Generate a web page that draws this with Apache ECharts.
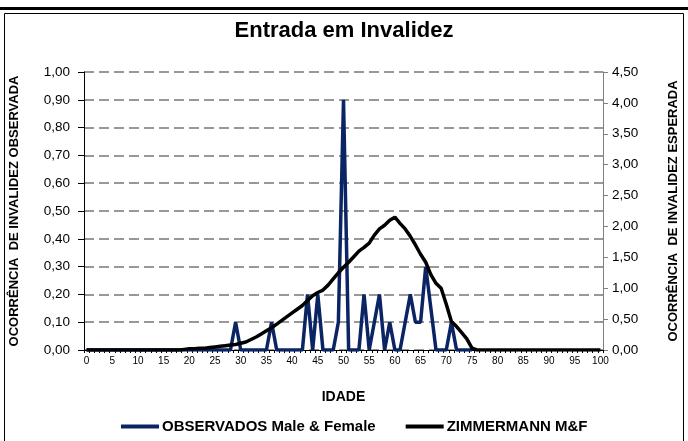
<!DOCTYPE html>
<html>
<head>
<meta charset="utf-8">
<script src="https://cdn.jsdelivr.net/npm/echarts@6/dist/echarts.min.js"></script>
<style>
  html, body { margin: 0; padding: 0; background: #fff; }
  #chart { width: 688px; height: 441px; }
</style>
</head>
<body>
<div id="chart"></div>
<script>
// idade 0..100
const ages = []
for (let a = 0; a <= 100; a++) ages.push(String(a))

// observado (eixo esquerdo), idades 0..75
const observados = [
  0, 0, 0, 0, 0, 0, 0, 0, 0, 0,
  0, 0, 0, 0, 0, 0, 0, 0, 0, 0,
  0, 0, 0, 0, 0, 0, 0, 0, 0, 0.1,
  0, 0, 0, 0, 0, 0, 0.1, 0, 0, 0,
  0, 0, 0, 0.2, 0, 0.2, 0, 0, 0, 0.1,
  0.9, 0, 0, 0, 0.2, 0, 0.1, 0.2, 0, 0.1,
  0, 0, 0.1, 0.2, 0.1, 0.1, 0.3, 0.15, 0, 0,
  0, 0.1, 0, 0, 0, 0
]

// esperado Zimmermann (eixo direito), idades 0..100
const zimmermann = [
  0, 0, 0, 0, 0, 0, 0, 0, 0, 0,
  0, 0, 0, 0, 0, 0, 0, 0, 0, 0.01,
  0.02, 0.02, 0.03, 0.03, 0.04, 0.05, 0.06, 0.07, 0.08, 0.09,
  0.11, 0.13, 0.17, 0.21, 0.26, 0.31, 0.36, 0.42, 0.48, 0.54,
  0.60, 0.66, 0.72, 0.80, 0.88, 0.93, 0.97, 1.05, 1.15, 1.25,
  1.34, 1.42, 1.51, 1.60, 1.66, 1.73, 1.86, 1.96, 2.02, 2.10,
  2.15, 2.05, 1.96, 1.84, 1.70, 1.55, 1.42, 1.22, 1.08, 1.00,
  0.74, 0.46, 0.38, 0.28, 0.18, 0.03, 0, 0, 0, 0,
  0, 0, 0, 0, 0, 0, 0, 0, 0, 0,
  0, 0, 0, 0, 0, 0, 0, 0, 0, 0,
  0
]

const fmt = v => v.toFixed(2).replace('.', ',')
const font = 'Liberation Sans, Arial, sans-serif'

const chart = echarts.init(document.getElementById('chart'))

chart.setOption({
  animation: false,
  textStyle: { fontFamily: font, color: '#000' },
  title: {
    text: 'Entrada em Invalidez',
    left: 'center',
    top: 15,
    textStyle: { fontFamily: font, fontSize: 22, fontWeight: 'bold', color: '#000' }
  },
  graphic: [
    { type: 'rect', shape: { x: 0, y: 7, width: 688, height: 3 }, style: { fill: '#000' } },
    { type: 'rect', shape: { x: 4.5, y: 13.5, width: 679, height: 440 }, style: { fill: 'none', stroke: '#000', lineWidth: 1 } }
  ],
  legend: {
    left: 116,
    top: 414,
    itemGap: 30,
    itemWidth: 38,
    itemHeight: 4,
    icon: 'rect',
    textStyle: { fontFamily: font, fontSize: 15, fontWeight: 'bold', color: '#000', padding: [0, 0, 0, -2] },
    data: ['OBSERVADOS Male & Female', 'ZIMMERMANN M&F']
  },
  grid: { left: 82, right: 85, top: 72, bottom: 91 },
  xAxis: {
    type: 'category',
    data: ages,
    boundaryGap: true,
    name: 'IDADE',
    nameLocation: 'middle',
    nameGap: 40,
    nameTextStyle: { fontFamily: font, fontSize: 14, fontWeight: 'bold', color: '#000' },
    axisLine: { lineStyle: { color: '#000', width: 1 } },
    axisTick: { show: true, interval: 0, length: 3, lineStyle: { color: '#000' } },
    axisLabel: { interval: 4, fontSize: 10, color: '#000', margin: 6 },
    splitLine: { show: false }
  },
  yAxis: [
    {
      type: 'value',
      min: 0,
      max: 1,
      interval: 0.1,
      name: 'OCORRÊNCIA  DE INVALIDEZ OBSERVADA',
      nameLocation: 'middle',
      nameGap: 63,
      nameTextStyle: { fontFamily: font, fontSize: 13, fontWeight: 'bold', color: '#000' },
      axisLine: { show: true, lineStyle: { color: '#000' } },
      axisTick: { show: true, length: 6, lineStyle: { color: '#000' } },
      axisLabel: { formatter: fmt, fontSize: 13.5, color: '#000', margin: 14 },
      splitLine: { show: true, lineStyle: { color: '#777', type: [10, 5], width: 1.5 } }
    },
    {
      type: 'value',
      min: 0,
      max: 4.5,
      interval: 0.5,
      position: 'right',
      name: 'OCORRÊNCIA  DE INVALIDEZ ESPERADA',
      nameLocation: 'middle',
      nameGap: 64,
      nameRotate: 90,
      nameTextStyle: { fontFamily: font, fontSize: 13, fontWeight: 'bold', color: '#000' },
      axisLine: { show: true, lineStyle: { color: '#808080' } },
      axisTick: { show: true, length: 5, lineStyle: { color: '#808080' } },
      axisLabel: { formatter: fmt, fontSize: 13.5, color: '#000', margin: 9 },
      splitLine: { show: false }
    }
  ],
  series: [
    {
      name: 'OBSERVADOS Male & Female',
      type: 'line',
      yAxisIndex: 0,
      data: observados,
      symbol: 'none',
      lineStyle: { color: '#0b2463', width: 3.5 },
      itemStyle: { color: '#0b2463' }
    },
    {
      name: 'ZIMMERMANN M&F',
      type: 'line',
      yAxisIndex: 1,
      data: zimmermann,
      symbol: 'none',
      lineStyle: { color: '#000', width: 3.5 },
      itemStyle: { color: '#000' }
    }
  ]
})
</script>
</body>
</html>
